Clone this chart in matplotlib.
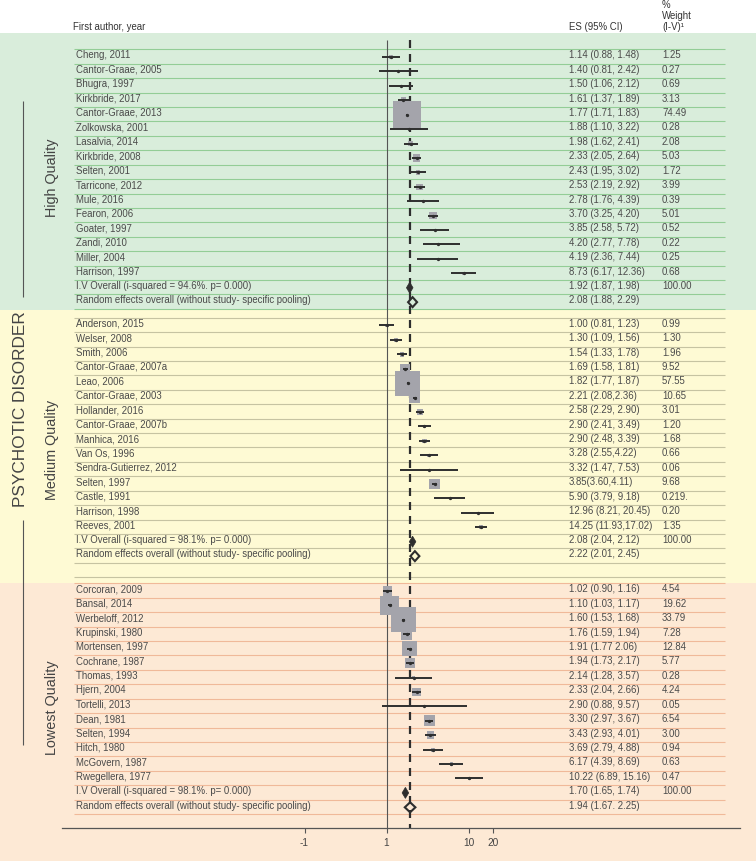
import matplotlib
matplotlib.use('Agg')
import matplotlib.pyplot as plt
import numpy as np
from matplotlib.patches import Polygon, Rectangle

plt.rcParams['font.family'] = ['Liberation Sans', 'DejaVu Sans']

# ---------------- data ----------------
high_labels = ["Cheng, 2011", "Cantor-Graae, 2005", "Bhugra, 1997", "Kirkbride, 2017",
               "Cantor-Graae, 2013", "Zolkowska, 2001", "Lasalvia, 2014", "Kirkbride, 2008",
               "Selten, 2001", "Tarricone, 2012", "Mule, 2016", "Fearon, 2006",
               "Goater, 1997", "Zandi, 2010", "Miller, 2004", "Harrison, 1997"]
high_es = [1.14, 1.40, 1.50, 1.61, 1.77, 1.88, 1.98, 2.33, 2.43, 2.53, 2.78, 3.70, 3.85, 4.20, 4.19, 8.73]
high_lo = [0.88, 0.81, 1.06, 1.37, 1.71, 1.10, 1.62, 2.05, 1.95, 2.19, 1.76, 3.25, 2.58, 2.77, 2.36, 6.17]
high_hi = [1.48, 2.42, 2.12, 1.89, 1.83, 3.22, 2.41, 2.64, 3.02, 2.92, 4.39, 4.20, 5.72, 7.78, 7.44, 12.36]
high_w = [1.25, 0.27, 0.69, 3.13, 74.49, 0.28, 2.08, 5.03, 1.72, 3.99, 0.39, 5.01, 0.52, 0.22, 0.25, 0.68]
high_es_text = ["1.14 (0.88, 1.48)", "1.40 (0.81, 2.42)", "1.50 (1.06, 2.12)", "1.61 (1.37, 1.89)",
                "1.77 (1.71, 1.83)", "1.88 (1.10, 3.22)", "1.98 (1.62, 2.41)", "2.33 (2.05, 2.64)",
                "2.43 (1.95, 3.02)", "2.53 (2.19, 2.92)", "2.78 (1.76, 4.39)", "3.70 (3.25, 4.20)",
                "3.85 (2.58, 5.72)", "4.20 (2.77, 7.78)", "4.19 (2.36, 7.44)", "8.73 (6.17, 12.36)"]
high_w_text = ["1.25", "0.27", "0.69", "3.13", "74.49", "0.28", "2.08", "5.03", "1.72", "3.99",
               "0.39", "5.01", "0.52", "0.22", "0.25", "0.68"]
high_iv = [1.92, 1.87, 1.98]
high_iv_label = "I.V Overall (i-squared = 94.6%. p= 0.000)"
high_iv_text = "1.92 (1.87, 1.98)"
high_re = [2.08, 1.88, 2.29]
high_re_text = "2.08 (1.88, 2.29)"

med_labels = ["Anderson, 2015", "Welser, 2008", "Smith, 2006", "Cantor-Graae, 2007a", "Leao, 2006",
              "Cantor-Graae, 2003", "Hollander, 2016", "Cantor-Graae, 2007b", "Manhica, 2016",
              "Van Os, 1996", "Sendra-Gutierrez, 2012", "Selten, 1997", "Castle, 1991",
              "Harrison, 1998", "Reeves, 2001"]
med_es = [1.00, 1.30, 1.54, 1.69, 1.82, 2.21, 2.58, 2.90, 2.90, 3.28, 3.32, 3.85, 5.90, 12.96, 14.25]
med_lo = [0.81, 1.09, 1.33, 1.58, 1.77, 2.08, 2.29, 2.41, 2.48, 2.55, 1.47, 3.60, 3.79, 8.21, 11.93]
med_hi = [1.23, 1.56, 1.78, 1.81, 1.87, 2.36, 2.90, 3.49, 3.39, 4.22, 7.53, 4.11, 9.18, 20.45, 17.02]
med_w = [0.99, 1.30, 1.96, 9.52, 57.55, 10.65, 3.01, 1.20, 1.68, 0.66, 0.06, 9.68, 0.219, 0.20, 1.35]
med_es_text = ["1.00 (0.81, 1.23)", "1.30 (1.09, 1.56)", "1.54 (1.33, 1.78)", "1.69 (1.58, 1.81)",
               "1.82 (1.77, 1.87)", "2.21 (2.08,2.36)", "2.58 (2.29, 2.90)", "2.90 (2.41, 3.49)",
               "2.90 (2.48, 3.39)", "3.28 (2.55,4.22)", "3.32 (1.47, 7.53)", "3.85(3.60,4.11)",
               "5.90 (3.79, 9.18)", "12.96 (8.21, 20.45)", "14.25 (11.93,17.02)"]
med_w_text = ["0.99", "1.30", "1.96", "9.52", "57.55", "10.65", "3.01", "1.20", "1.68", "0.66",
              "0.06", "9.68", "0.219.", "0.20", "1.35"]
med_iv = [2.08, 2.04, 2.12]
med_iv_label = "I.V Overall (i-squared = 98.1%. p= 0.000)"
med_iv_text = "2.08 (2.04, 2.12)"
med_re = [2.22, 2.01, 2.45]
med_re_text = "2.22 (2.01, 2.45)"

low_labels = ["Corcoran, 2009", "Bansal, 2014", "Werbeloff, 2012", "Krupinski, 1980",
              "Mortensen, 1997", "Cochrane, 1987", "Thomas, 1993", "Hjern, 2004", "Tortelli, 2013",
              "Dean, 1981", "Selten, 1994", "Hitch, 1980", "McGovern, 1987", "Rwegellera, 1977"]
low_es = [1.02, 1.10, 1.60, 1.76, 1.91, 1.94, 2.14, 2.33, 2.90, 3.30, 3.43, 3.69, 6.17, 10.22]
low_lo = [0.90, 1.03, 1.53, 1.59, 1.77, 1.73, 1.28, 2.04, 0.88, 2.97, 2.93, 2.79, 4.39, 6.89]
low_hi = [1.16, 1.17, 1.68, 1.94, 2.06, 2.17, 3.57, 2.66, 9.57, 3.67, 4.01, 4.88, 8.69, 15.16]
low_w = [4.54, 19.62, 33.79, 7.28, 12.84, 5.77, 0.28, 4.24, 0.05, 6.54, 3.00, 0.94, 0.63, 0.47]
low_es_text = ["1.02 (0.90, 1.16)", "1.10 (1.03, 1.17)", "1.60 (1.53, 1.68)", "1.76 (1.59, 1.94)",
               "1.91 (1.77 2.06)", "1.94 (1.73, 2.17)", "2.14 (1.28, 3.57)", "2.33 (2.04, 2.66)",
               "2.90 (0.88, 9.57)", "3.30 (2.97, 3.67)", "3.43 (2.93, 4.01)", "3.69 (2.79, 4.88)",
               "6.17 (4.39, 8.69)", "10.22 (6.89, 15.16)"]
low_w_text = ["4.54", "19.62", "33.79", "7.28", "12.84", "5.77", "0.28", "4.24", "0.05", "6.54",
              "3.00", "0.94", "0.63", "0.47"]
low_iv = [1.70, 1.65, 1.74]
low_iv_label = "I.V Overall (i-squared = 98.1%. p= 0.000)"
low_iv_text = "1.70 (1.65, 1.74)"
low_re = [1.94, 1.67, 2.25]
low_re_text = "1.94 (1.67. 2.25)"

re_label = "Random effects overall (without study- specific pooling)"
overall_ref = 1.92
tick_values = [0.1, 1, 10, 20]
tick_labels = ["-1", "1", "10", "20"]

group_names = ["High Quality", "Medium Quality", "Lowest Quality"]
main_label = "PSYCHOTIC DISORDER"

# ---------------- layout (pixels) ----------------
W, H = 756, 861
fig = plt.figure(figsize=(W / 100, H / 100), dpi=100)
bg = fig.add_axes([0, 0, 1, 1], zorder=0)
bg.set_xlim(0, W)
bg.set_ylim(H, 0)
bg.axis('off')

AX_L, AX_R, AX_TOP, AX_BOT = 62, 740, 33, 828
X_ONE = 386.5
PPD = 82.0  # pixels per decade
ax = fig.add_axes([AX_L / W, (H - AX_BOT) / H, (AX_R - AX_L) / W, (AX_BOT - AX_TOP) / H], zorder=2)
ax.patch.set_visible(False)
ax.set_xscale('log')
ax.set_xlim(10 ** (-(X_ONE - AX_L) / PPD), 10 ** ((AX_R - X_ONE) / PPD))
ax.set_ylim(AX_BOT, AX_TOP)
for s in ['top', 'left', 'right']:
    ax.spines[s].set_visible(False)
ax.spines['bottom'].set_color('#555555')
ax.spines['bottom'].set_linewidth(0.9)
ax.set_yticks([])
ax.set_xticks(tick_values)
ax.set_xticklabels(tick_labels)
ax.minorticks_off()
ax.tick_params(axis='x', length=3.5, width=0.8, color='#555555', labelsize=7.3,
               labelcolor='#444444', pad=3.5)

TXT = '#4a4a4a'
DARK = '#2e2e2e'
BOX = '#a4a4ab'
FS = 6.9
PITCH = 14.42

# header
bg.text(73, 27, "First author, year", fontsize=FS, color='#333333', va='center', ha='left')
bg.text(569, 27, "ES (95% CI)", fontsize=FS, color='#333333', va='center', ha='left')
bg.text(662, 5, "%", fontsize=FS, color='#333333', va='center', ha='left')
bg.text(662, 16, "Weight", fontsize=FS, color='#333333', va='center', ha='left')
bg.text(662, 27, "(I-V)\u00b9", fontsize=FS, color='#333333', va='center', ha='left')

bands = [
    dict(top=33, bottom=309.5, first=49.3, bgc='#d9eddb', lc='#93cd96',
         labels=high_labels, es=high_es, lo=high_lo, hi=high_hi, w=high_w,
         es_t=high_es_text, w_t=high_w_text, iv=high_iv, iv_l=high_iv_label,
         iv_t=high_iv_text, re=high_re, re_t=high_re_text, k=3.25, extra=0),
    dict(top=309.5, bottom=582.5, first=317.7, bgc='#fefad4', lc='#c6c3a2',
         labels=med_labels, es=med_es, lo=med_lo, hi=med_hi, w=med_w,
         es_t=med_es_text, w_t=med_w_text, iv=med_iv, iv_l=med_iv_label,
         iv_t=med_iv_text, re=med_re, re_t=med_re_text, k=3.3, extra=1),
    dict(top=582.5, bottom=H, first=583.3, bgc='#fde9d5', lc='#f0b999',
         labels=low_labels, es=low_es, lo=low_lo, hi=low_hi, w=low_w,
         es_t=low_es_text, w_t=low_w_text, iv=low_iv, iv_l=low_iv_label,
         iv_t=low_iv_text, re=low_re, re_t=low_re_text, k=4.3, extra=0),
]

for b in bands:
    bg.add_patch(Rectangle((0, b['top']), W, b['bottom'] - b['top'], facecolor=b['bgc'],
                           edgecolor='none', zorder=0))
    n = len(b['labels'])
    nrows = n + 2 + b['extra']
    ys_lines = [b['first'] + i * PITCH for i in range(nrows + 1)]
    bg.hlines(ys_lines, 74, 725, colors=b['lc'], linewidth=0.8, zorder=1)
    centers = [b['first'] + (i + 0.5) * PITCH for i in range(n + 2)]
    texts = list(b['labels']) + [b['iv_l'], re_label]
    es_texts = list(b['es_t']) + [b['iv_t'], b['re_t']]
    w_texts = list(b['w_t']) + ["100.00", ""]
    for c, t, e, wt in zip(centers, texts, es_texts, w_texts):
        bg.text(76.5, c - 1.2, t, fontsize=FS, color=TXT, va='center', ha='left', zorder=3)
        bg.text(569, c - 1.2, e, fontsize=FS, color=TXT, va='center', ha='left', zorder=3)
        if wt:
            bg.text(662, c - 1.2, wt, fontsize=FS, color=TXT, va='center', ha='left', zorder=3)
    ym = np.array(centers[:n]) + 0.5
    side_pt = b['k'] * np.sqrt(np.array(b['w'])) * 0.72
    ax.scatter(b['es'], ym, s=side_pt ** 2, marker='s', color=BOX, linewidths=0, zorder=2)
    ax.hlines(ym, b['lo'], b['hi'], colors=DARK, linewidth=1.4, zorder=3)
    ax.plot(b['es'], ym, 'o', color=DARK, markersize=2.4, markeredgewidth=0, zorder=4)
    # IV diamond (filled)
    e, l, h = b['iv']
    yc = centers[n] + 0.5
    hw = max((np.log10(h) - np.log10(l)) / 2, 3.3 / PPD)
    ax.add_patch(Polygon([(e * 10 ** -hw, yc), (e, yc - 5.5), (e * 10 ** hw, yc), (e, yc + 5.5)],
                         closed=True, facecolor=DARK, edgecolor=DARK, linewidth=0.5, zorder=5))
    # RE diamond (hollow)
    e, l, h = b['re']
    yc = centers[n + 1] + 0.5
    hw = max((np.log10(h) - np.log10(l)) / 2, 4.5 / PPD)
    ax.add_patch(Polygon([(e * 10 ** -hw, yc), (e, yc - 5), (e * 10 ** hw, yc), (e, yc + 5)],
                         closed=True, facecolor='none', edgecolor=DARK, linewidth=1.5, zorder=5))

# reference lines
ax.vlines(1, 40, AX_BOT, colors='#555555', linewidth=0.8, zorder=1)
ax.vlines(overall_ref, 40, AX_BOT, colors=DARK, linewidth=1.6, linestyles=(0, (3.6, 2.7)), zorder=1)

# left group labels
mids = [178, 450, 708]
for name, m in zip(group_names, mids):
    bg.text(52, m, name, rotation=90, fontsize=10.4, color='#444444', ha='center', va='center')
bg.text(21, 409, main_label, rotation=90, fontsize=12.4, color='#444444', ha='center', va='center')
bg.vlines(23, 101, 297, colors='#555555', linewidth=0.8)
bg.vlines(23, 520, 745, colors='#555555', linewidth=0.8)

fig.savefig('out.png', dpi=100)
